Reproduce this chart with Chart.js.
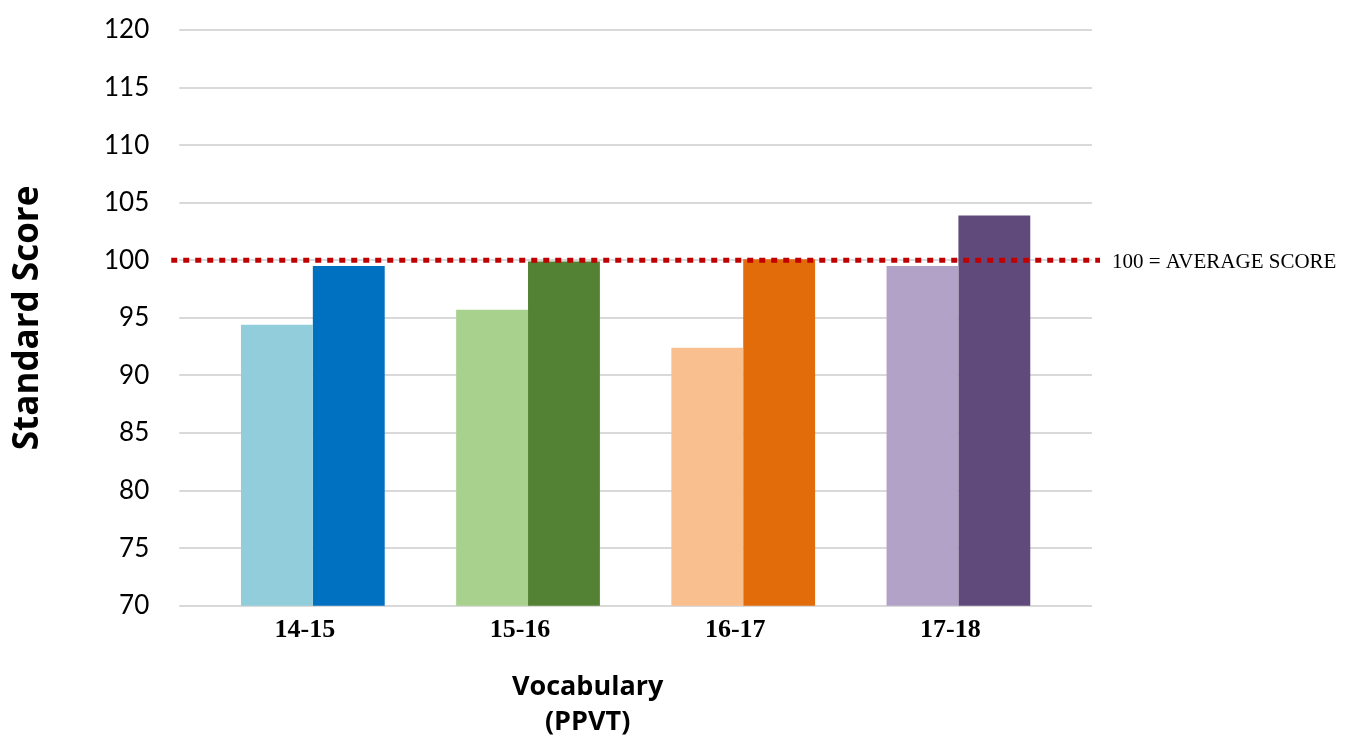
<!DOCTYPE html>
<html>
<head>
<meta charset="utf-8">
<script src="https://cdn.jsdelivr.net/npm/chart.js@4"></script>
<style>
  html, body { margin: 0; padding: 0; background: #fff; }
  #wrap { width: 1345px; height: 743px; }
</style>
</head>
<body>
<div id="wrap"><canvas id="chart" width="1345" height="743"></canvas></div>
<script>
// ===== Data =====
const ageGroups = ["14-15", "15-16", "16-17", "17-18"];
const firstScores = [94.4, 95.7, 92.4, 99.5];
const secondScores = [99.5, 99.9, 100.1, 103.9];
const firstColors = ["#92CDDC", "#A9D18E", "#F9BF8F", "#B3A2C7"];
const secondColors = ["#0070C0", "#548235", "#E36C0A", "#604A7B"];
const averageScore = 100;
const averageLabel = "100 = AVERAGE SCORE";
const yTitle = "Standard Score";
const xTitleLines = ["Vocabulary", "(PPVT)"];

// ===== Average line + x title =====
const extrasPlugin = {
  id: "extras",
  afterDatasetsDraw(chart){
    const {ctx, chartArea, scales} = chart;
    const y = scales.y.getPixelForValue(averageScore);
    ctx.save();
    ctx.strokeStyle = "#C00000";
    ctx.lineWidth = 5;
    ctx.setLineDash([6, 6]);
    ctx.beginPath();
    ctx.moveTo(chartArea.left - 34, y);
    ctx.lineTo(chartArea.right + 34, y);
    ctx.stroke();
    ctx.setLineDash([]);
    ctx.fillStyle = "#000";
    ctx.font = "21px 'Liberation Serif', serif";
    ctx.textAlign = "left";
    ctx.textBaseline = "middle";
    ctx.fillText(averageLabel, chartArea.right + 46, y + 2);

    // x axis title, sits a bit left of the plot centre like the original
    const cx = (chartArea.left + chartArea.right) / 2 - 48;
    ctx.font = "bold 27px 'Open Sans', sans-serif";
    ctx.textAlign = "center";
    ctx.textBaseline = "alphabetic";
    xTitleLines.forEach((line, i) => {
      ctx.fillText(line, cx, chartArea.bottom + 89 + i * 35);
    });
    ctx.restore();
  }
};

const ctx = document.getElementById("chart").getContext("2d");
new Chart(ctx, {
  type: "bar",
  data: {
    labels: ageGroups,
    datasets: [
      { label: "First", data: firstScores, backgroundColor: firstColors,
        barPercentage: 1, categoryPercentage: 0.668 },
      { label: "Second", data: secondScores, backgroundColor: secondColors,
        barPercentage: 1, categoryPercentage: 0.668 }
    ]
  },
  options: {
    responsive: false,
    animation: false,
    layout: { padding: { top: 30, right: 253, bottom: 96, left: 0 } },
    plugins: { legend: { display: false }, tooltip: { enabled: false } },
    scales: {
      x: {
        grid: { display: false },
        border: { display: true, color: "#D9D9D9", width: 2 },
        ticks: { color: "#000", padding: 1, labelOffset: -8,
          font: { family: "'Liberation Serif', serif", size: 26, weight: "bold" } }
      },
      y: {
        min: 70, max: 120,
        grid: { color: "#D9D9D9", lineWidth: 2, drawTicks: true, tickLength: 26, tickColor: "#D9D9D9" },
        border: { display: false },
        ticks: { stepSize: 5, color: "#000", padding: 30,
          font: { family: "Lato, sans-serif", size: 26 } },
        title: { display: true, text: yTitle, color: "#000",
          padding: { top: 7, bottom: 25 },
          font: { family: "'Open Sans', sans-serif", size: 35, weight: "bold" } },
        // tick padding should only push labels sideways, not shrink the plot
        afterFit(scale){ scale.paddingTop = 0; scale.paddingBottom = 0; }
      },
      yRight: {
        position: "right",
        min: 70, max: 120,
        grid: { drawOnChartArea: false, color: "#D9D9D9", lineWidth: 2, tickLength: 26 },
        border: { display: false },
        ticks: { stepSize: 5, display: false },
        afterFit(scale){ scale.paddingTop = 0; scale.paddingBottom = 0; }
      }
    }
  },
  plugins: [extrasPlugin]
});
</script>
</body>
</html>
